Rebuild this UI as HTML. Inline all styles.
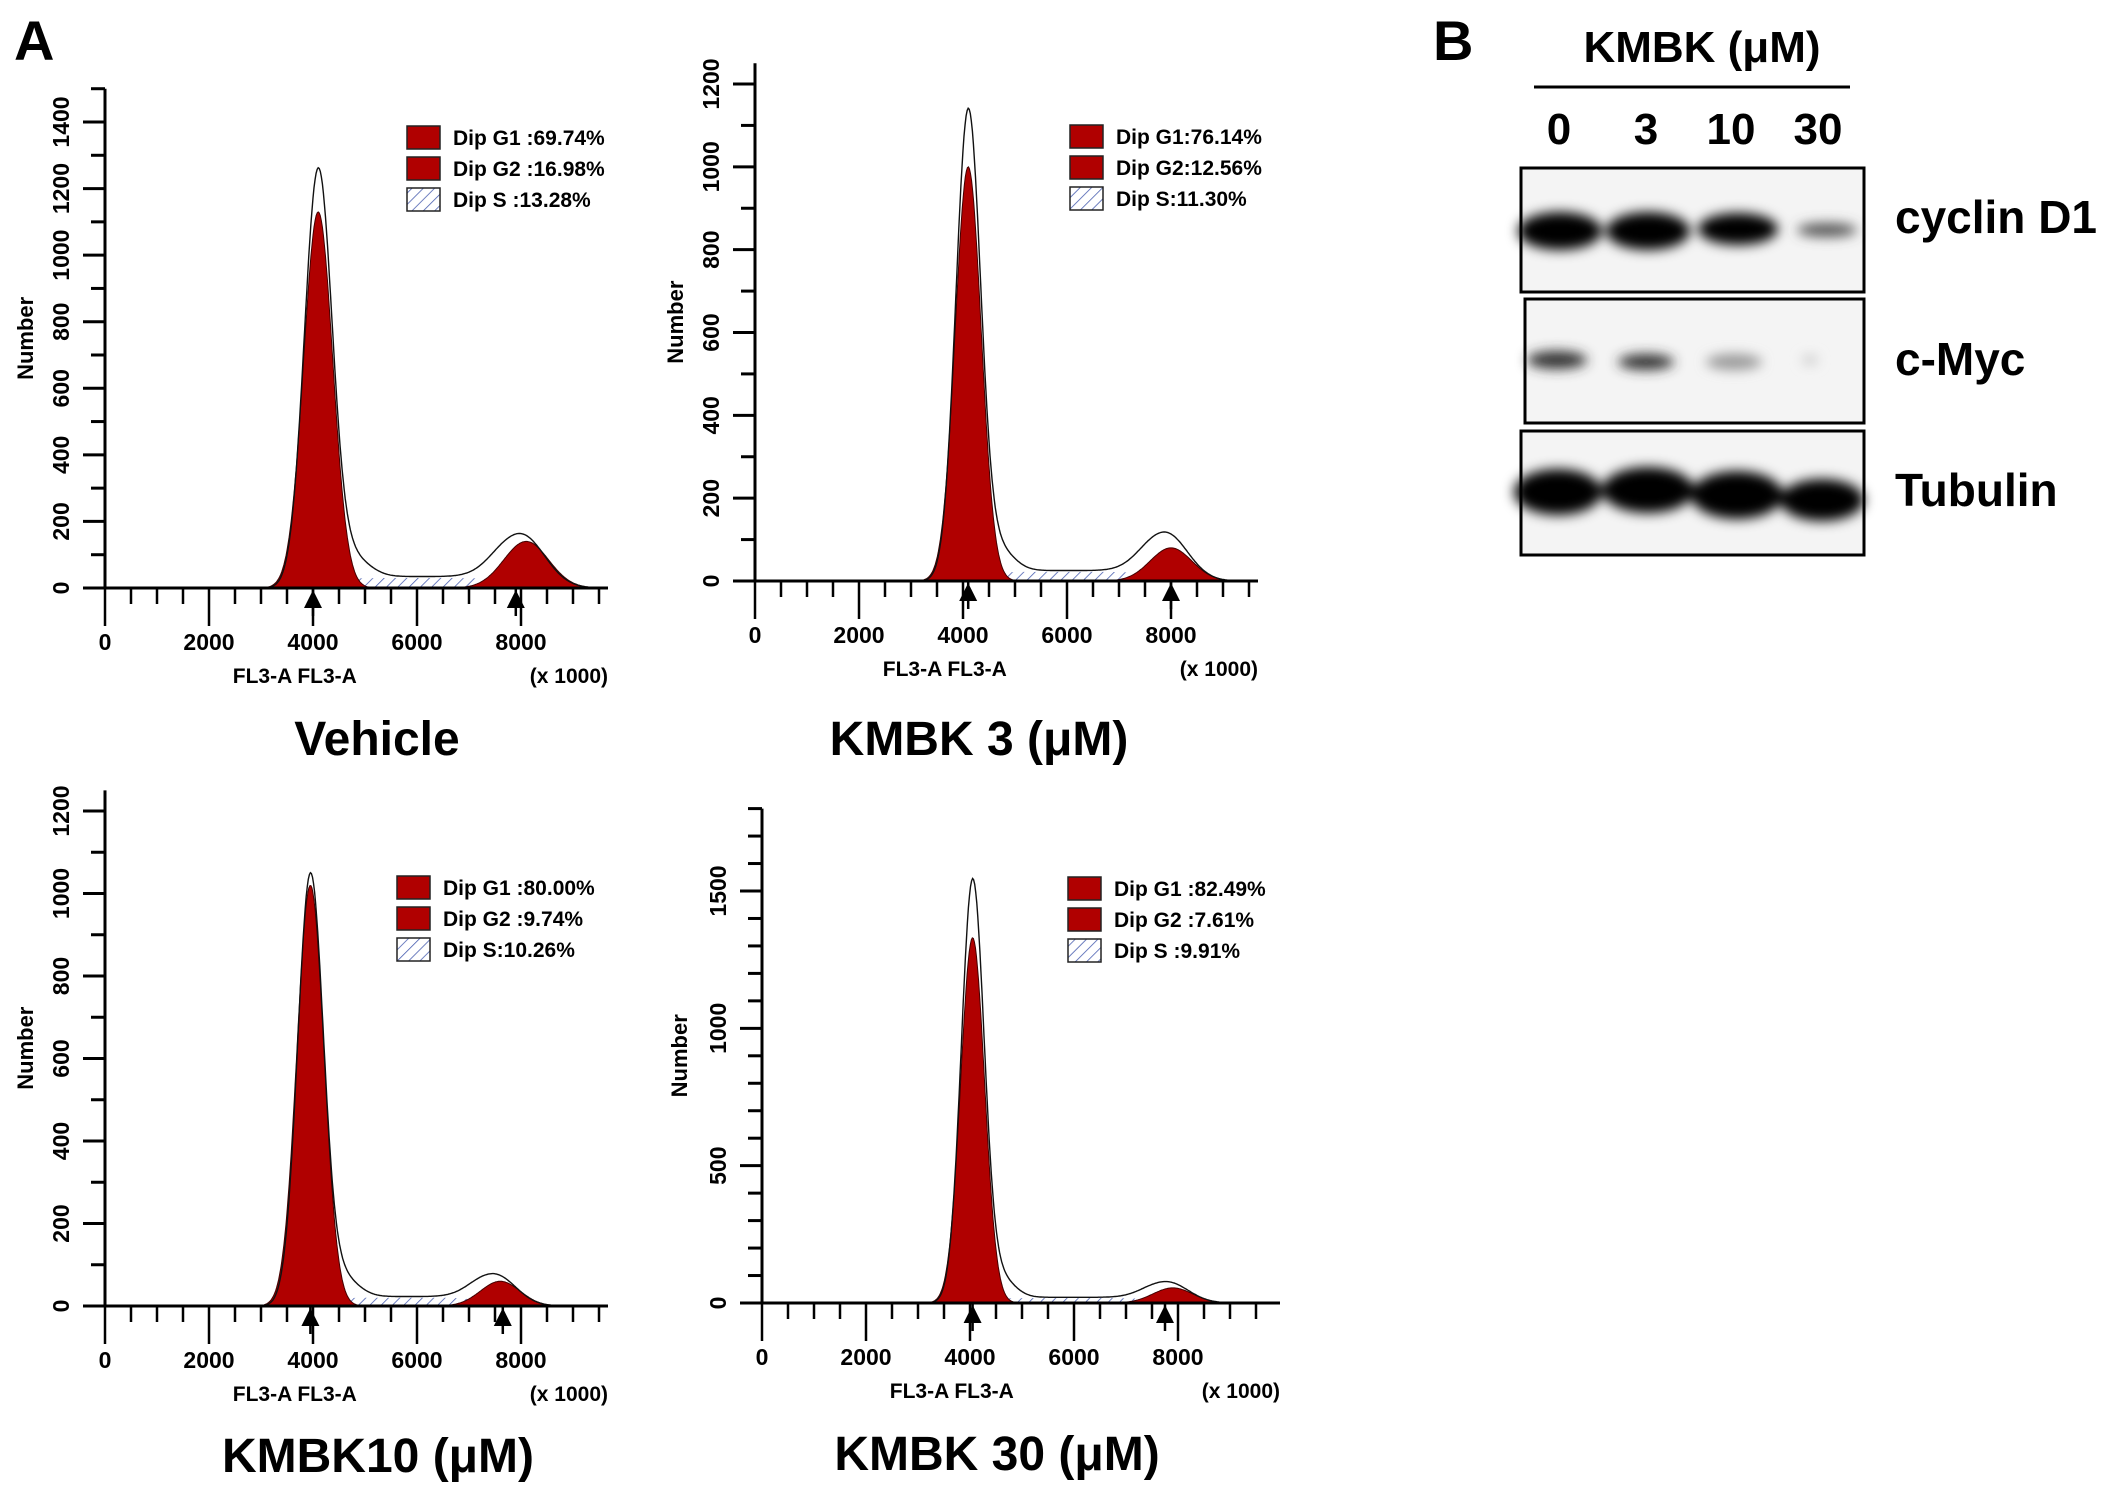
<!DOCTYPE html>
<html><head><meta charset="utf-8"><style>
html,body{margin:0;padding:0;background:#fff;}
svg{display:block;font-family:"Liberation Sans",Arial,sans-serif;font-weight:bold;}
</style></head><body>
<svg id="fig" width="2126" height="1495" viewBox="0 0 2126 1495" xmlns="http://www.w3.org/2000/svg">
<defs>
<pattern id="hatch" width="8" height="8" patternUnits="userSpaceOnUse" patternTransform="rotate(45)">
<rect width="8" height="8" fill="#fff"/><line x1="0" y1="0" x2="0" y2="8" stroke="#4a5fb0" stroke-width="1.6"/></pattern>
<filter id="blur" x="-50%" y="-100%" width="200%" height="300%"><feGaussianBlur stdDeviation="6"/></filter>
</defs>
<text x="14" y="60" font-size="56">A</text>
<text x="1433" y="60" font-size="56">B</text>
<g id="charts"></g>
<g id="blot">
<text x="1702" y="62" font-size="44" text-anchor="middle">KMBK (μM)</text>
<line x1="1534" y1="87" x2="1850" y2="87" stroke="#000" stroke-width="3"/>
<text x="1559" y="144" font-size="44" text-anchor="middle">0</text>
<text x="1646" y="144" font-size="44" text-anchor="middle">3</text>
<text x="1731" y="144" font-size="44" text-anchor="middle">10</text>
<text x="1818" y="144" font-size="44" text-anchor="middle">30</text>
<rect x="1521" y="168" width="343" height="124" fill="#f4f4f4" stroke="#000" stroke-width="3"/>
<rect x="1525" y="299" width="339" height="124" fill="#f4f4f4" stroke="#000" stroke-width="3"/>
<rect x="1521" y="431" width="343" height="124" fill="#f4f4f4" stroke="#000" stroke-width="3"/>
<g filter="url(#blur)">
<ellipse cx="1560" cy="231" rx="42" ry="19" fill="#000"/>
<ellipse cx="1648" cy="231" rx="42" ry="19" fill="#000"/>
<ellipse cx="1738" cy="229" rx="40" ry="16" fill="#000"/>
<ellipse cx="1827" cy="230" rx="30" ry="7" fill="#555"/>
<ellipse cx="1557" cy="360" rx="30" ry="9" fill="#333"/>
<ellipse cx="1646" cy="362" rx="28" ry="8" fill="#333"/>
<ellipse cx="1734" cy="362" rx="28" ry="8" fill="#999"/>
<ellipse cx="1810" cy="360" rx="8" ry="5" fill="#ccc"/>
<ellipse cx="1558" cy="492" rx="44" ry="23" fill="#000"/>
<ellipse cx="1648" cy="490" rx="46" ry="23" fill="#000"/>
<ellipse cx="1737" cy="495" rx="46" ry="24" fill="#000"/>
<ellipse cx="1822" cy="500" rx="42" ry="21" fill="#000"/>
</g>
<text x="1895" y="233" font-size="46">cyclin D1</text>
<text x="1895" y="375" font-size="46">c-Myc</text>
<text x="1895" y="506" font-size="46">Tubulin</text>
</g>
</svg>
<script>
// per-panel data (model fit parameters)
const panelTitles = ["Vehicle","KMBK 3 (μM)","KMBK10 (μM)","KMBK 30 (μM)"];
const g1Mean = [4100,4100,3950,4050];
const g1Height = [1130,1000,1020,1330];
const g1Sd = [280,250,260,230];
const g1RawPeak = [1250,1130,1040,1530];
const g2Mean = [8100,8000,7600,7900];
const g2Height = [140,80,60,55];
const g2Sd = [430,400,380,380];
const g2RawPeak = [160,115,75,75];
const sLevel = [30,22,20,18];
const g1Marker = [4000,4100,3950,4050];
const g2Marker = [7900,8000,7650,7750];
const legendG1 = ["Dip G1 :69.74%","Dip G1:76.14%","Dip G1 :80.00%","Dip G1 :82.49%"];
const legendG2 = ["Dip G2 :16.98%","Dip G2:12.56%","Dip G2 :9.74%","Dip G2 :7.61%"];
const legendS = ["Dip S :13.28%","Dip S:11.30%","Dip S:10.26%","Dip S :9.91%"];
const yMaxTick = [1400,1200,1200,1500];
const yAxisTop = [1500,1250,1250,1800];
const yLabelStep = [200,200,200,500];
const xTicks = [0,2000,4000,6000,8000];

// layout (pixel geometry, not data)
const L = [
 {x0:105,y0:588,yTopPix:122,xEnd:608,yTitleX:26,titleX:377,titleY:755},
 {x0:755,y0:581,yTopPix:84,xEnd:1258,yTitleX:676,titleX:979,titleY:755},
 {x0:105,y0:1306,yTopPix:811,xEnd:608,yTitleX:26,titleX:378,titleY:1472},
 {x0:762,y0:1303,yTopPix:891,xEnd:1280,yTitleX:680,titleX:997,titleY:1470}
];
const X_PER_8000 = 416;
const NS="http://www.w3.org/2000/svg";
const root=document.getElementById('charts');
function mk(tag,attrs,parent){const e=document.createElementNS(NS,tag);for(const k in attrs)e.setAttribute(k,attrs[k]);parent.appendChild(e);return e;}
function gauss(x,m,s,h){return h*Math.exp(-0.5*((x-m)/s)**2);}
function sig(x){return 1/(1+Math.exp(-x));}

for(let i=0;i<4;i++){
  const l=L[i];
  const xs=v=>l.x0+v*X_PER_8000/8000;
  const ys=v=>l.y0-v*(l.y0-l.yTopPix)/yMaxTick[i];
  const g=mk('g',{},root);
  
  
  const sComp=x=>sLevel[i]*sig((x-(g1Mean[i]+1.5*g1Sd[i]))/120)*sig(((g2Mean[i]-1.0*g2Sd[i])-x)/150);
  let d='M'+xs(g1Mean[i])+','+ys(0);
  for(let v=g1Mean[i];v<=g2Mean[i];v+=25)d+=' L'+xs(v).toFixed(1)+','+ys(sComp(v)).toFixed(1);
  d+=' L'+xs(g2Mean[i])+','+ys(0)+'Z';
  const sp=mk('path',{d:d,fill:'url(#hatch)',stroke:'none'},g);
  
  
  [[g1Mean,g1Height,g1Sd,'g1-peak'],[g2Mean,g2Height,g2Sd,'g2-peak']].forEach(([M,H,S,name])=>{
    let p='M'+xs(M[i]-3.5*S[i])+','+ys(0);
    for(let v=M[i]-3.5*S[i];v<=M[i]+3.5*S[i];v+=20)p+=' L'+xs(v).toFixed(1)+','+ys(gauss(v,M[i],S[i],H[i])).toFixed(1);
    p+=' L'+xs(M[i]+3.5*S[i])+','+ys(0)+'Z';
    const e=mk('path',{d:p,fill:'#b00000',stroke:'#400',"stroke-width":1},g);
    
    
  });
  let o='';
  for(let v=g1Mean[i]-4*g1Sd[i];v<=g2Mean[i]+3.2*g2Sd[i];v+=20){
    const val=gauss(v,g1Mean[i],g1Sd[i]*0.95,g1RawPeak[i])+gauss(v,g1Mean[i]+2.2*g1Sd[i],g1Sd[i]*1.2,g1RawPeak[i]*0.05)+gauss(v,g2Mean[i]-100,g2Sd[i]*1.05,g2RawPeak[i])+sComp(v)*1.15;
    o+=(o?' L':'M')+xs(v).toFixed(1)+','+ys(val).toFixed(1);
  }
  const ol=mk('path',{d:o,fill:'none',stroke:'#111',"stroke-width":1.4},g);
  
  
  const ya=mk('line',{x1:l.x0,y1:ys(yAxisTop[i]),x2:l.x0,y2:l.y0,stroke:'#000',"stroke-width":3},g);
  
  
  const xa=mk('line',{x1:l.x0-22,y1:l.y0,x2:l.xEnd,y2:l.y0,stroke:'#000',"stroke-width":3},g);
  
  
  for(let v=0;v<=yAxisTop[i];v+=100){
    const major=v%yLabelStep[i]===0;
    mk('line',{x1:l.x0-(major?22:14),y1:ys(v),x2:l.x0,y2:ys(v),stroke:'#000',"stroke-width":3},g);
    if(major&&v<=yMaxTick[i]){
      const t=mk('text',{x:0,y:0,"font-size":23,"text-anchor":"middle",transform:`translate(${l.x0-36},${ys(v)}) rotate(-90)`},g);
      t.textContent=v;
      
      
    }
  }
  for(let v=0;xs(v)<=l.xEnd-5;v+=500){
    const major=v%2000===0;
    mk('line',{x1:xs(v),y1:l.y0,x2:xs(v),y2:l.y0+(major?38:16),stroke:'#000',"stroke-width":2.5},g);
  }
  xTicks.forEach(v=>{
    const t=mk('text',{x:xs(v),y:l.y0+62,"font-size":23,"text-anchor":"middle"},g);
    t.textContent=v;
    
    
  });
  [g1Marker[i],g2Marker[i]].forEach(v=>{
    const a=mk('path',{d:`M${xs(v)-9},${l.y0+20} L${xs(v)},${l.y0+2} L${xs(v)+9},${l.y0+20}Z`,fill:'#000'},g);
    
    
    mk('line',{x1:xs(v),y1:l.y0,x2:xs(v),y2:l.y0+28,stroke:'#000',"stroke-width":2.5},g);
  });
  const xl=mk('text',{x:xs(3650),y:l.y0+95,"font-size":21,"text-anchor":"middle"},g);
  xl.textContent='FL3-A FL3-A';
  
  
  const xu=mk('text',{x:l.xEnd,y:l.y0+95,"font-size":21,"text-anchor":"end"},g);
  xu.textContent='(x 1000)';
  
  
  const yt=mk('text',{x:0,y:0,"font-size":22,"text-anchor":"middle",transform:`translate(${l.yTitleX+7},${(l.y0+ys(yAxisTop[i]))/2}) rotate(-90)`},g);
  yt.textContent='Number';
  
  
  const tt=mk('text',{x:l.titleX,y:l.titleY,"font-size":48,"text-anchor":"middle"},g);
  tt.textContent=panelTitles[i];
  
  
  const lx=[407,1070,397,1068][i], ly=[126,125,876,877][i];
  const lg=mk('g',{},g);
  
  
  [[legendG1[i],'#b00000'],[legendG2[i],'#b00000'],[legendS[i],'url(#hatch)']].forEach(([txt,fill],k)=>{
    const r=mk('rect',{x:lx,y:ly+k*31,width:33,height:23,fill:fill,stroke:'#222',"stroke-width":1.5},lg);
    
    
    const t=mk('text',{x:lx+46,y:ly+k*31+19,"font-size":21},lg);
    t.textContent=txt;
    
    
  });
}
</script>
</body></html>
